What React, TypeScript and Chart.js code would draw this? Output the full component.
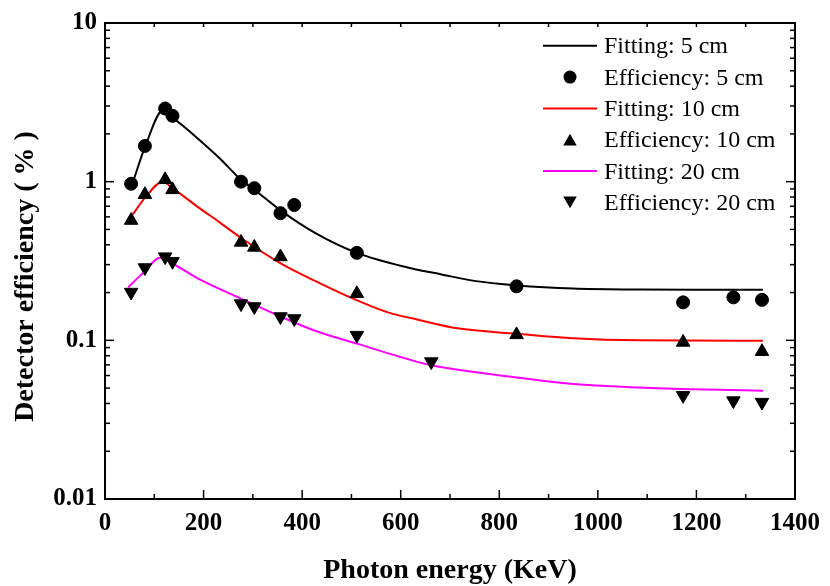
import { useEffect, useRef } from 'react';
import { Chart, registerables } from 'chart.js';
Chart.register(...registerables);

const SERIF = '"Liberation Serif", "Times New Roman", Times, serif';

// Measured efficiency points
const energy5 = [53, 81, 122, 137, 276, 303, 356, 384, 511, 835, 1173, 1275, 1333];
const eff5 = [0.97, 1.68, 2.89, 2.6, 1.0, 0.91, 0.633, 0.713, 0.356, 0.219, 0.1735, 0.1866, 0.18];

const energy10 = [53, 81, 122, 137, 276, 303, 356, 511, 835, 1173, 1333];
const eff10 = [0.57, 0.83, 1.03, 0.89, 0.415, 0.386, 0.336, 0.197, 0.1085, 0.0972, 0.085];

const energy20 = [53, 81, 122, 137, 276, 303, 356, 384, 511, 662, 1173, 1275, 1333];
const eff20 = [0.201, 0.287, 0.336, 0.314, 0.17, 0.163, 0.141, 0.137, 0.1076, 0.0733, 0.0449, 0.0416, 0.0407];

// Fitting curves
const fitX5 = [57, 81, 119, 137, 180, 232, 277, 303, 359, 426, 511, 614, 681, 749, 836, 950, 1084, 1200, 1335];
const fitY5 = [1.0, 1.65, 2.85, 2.55, 1.97, 1.41, 1.02, 0.89, 0.65, 0.476, 0.356, 0.288, 0.261, 0.237, 0.222, 0.212, 0.209, 0.208, 0.208];

const fitX10 = [56, 81, 117, 137, 191, 232, 277, 359, 426, 500, 574, 635, 715, 836, 950, 1084, 1335];
const fitY10 = [0.62, 0.79, 1.0, 0.91, 0.684, 0.556, 0.44, 0.302, 0.237, 0.185, 0.15, 0.135, 0.119, 0.11, 0.103, 0.1, 0.0995];

const fitX20 = [47, 81, 111, 137, 191, 278, 359, 426, 511, 614, 662, 749, 836, 950, 1084, 1219, 1335];
const fitY20 = [0.216, 0.273, 0.332, 0.305, 0.243, 0.182, 0.14, 0.115, 0.0953, 0.0762, 0.0697, 0.0632, 0.0583, 0.053, 0.0505, 0.049, 0.0481];

const xMajorTicks = [0, 200, 400, 600, 800, 1000, 1200, 1400];
const xMinorTicks = [100, 300, 500, 700, 900, 1100, 1300];
const yMajorTicks = [0.01, 0.1, 1, 10];
const yTickLabels = ['0.01', '0.1', '1', '10'];
const yMinorTicks = [2, 3, 4, 5, 6, 7, 8, 9].flatMap((m) => [m * 0.01, m * 0.1, m]);

const legendLabels = [
  'Fitting: 5 cm',
  'Efficiency: 5 cm',
  'Fitting: 10 cm',
  'Efficiency: 10 cm',
  'Fitting: 20 cm',
  'Efficiency: 20 cm',
];

const xTitle = 'Photon energy (KeV)';
const yTitle = 'Detector efficiency ( % )';

const toPts = (xs: number[], ys: number[]) => xs.map((x, i) => ({ x, y: ys[i] }));

const framePlugin = {
  id: 'frameAndExtras',
  afterDraw(chart: any) {
    const { ctx, chartArea: a, scales } = chart;
    const xs = scales.x;
    const ys = scales.y;
    ctx.save();
    ctx.strokeStyle = '#000';
    ctx.lineWidth = 1.5;
    const seg = (x1: number, y1: number, x2: number, y2: number) => {
      ctx.beginPath();
      ctx.moveTo(x1, y1);
      ctx.lineTo(x2, y2);
      ctx.stroke();
    };
    xMajorTicks.forEach((v) => {
      const p = xs.getPixelForValue(v);
      seg(p, a.bottom, p, a.bottom - 9);
      seg(p, a.top, p, a.top + 4);
    });
    xMinorTicks.forEach((v) => {
      const p = xs.getPixelForValue(v);
      seg(p, a.bottom, p, a.bottom - 5);
      seg(p, a.top, p, a.top + 4);
    });
    yMajorTicks.forEach((v) => {
      const p = ys.getPixelForValue(v);
      seg(a.left, p, a.left + 9, p);
      seg(a.right, p, a.right - 9, p);
    });
    yMinorTicks.forEach((v) => {
      const p = ys.getPixelForValue(v);
      seg(a.left, p, a.left + 5, p);
      seg(a.right, p, a.right - 5, p);
    });
    ctx.lineWidth = 2;
    ctx.strokeRect(a.left, a.top, a.right - a.left, a.bottom - a.top);

    // axis titles
    ctx.fillStyle = '#000';
    ctx.font = `bold 28px ${SERIF}`;
    ctx.textAlign = 'center';
    ctx.textBaseline = 'alphabetic';
    ctx.fillText(xTitle, (a.left + a.right) / 2, 577.5);
    ctx.save();
    ctx.translate(33, 276.5);
    ctx.rotate(-Math.PI / 2);
    ctx.fillText(yTitle, 0, 0);
    ctx.restore();

    // legend
    const ds = chart.data.datasets;
    ctx.font = `24px ${SERIF}`;
    ctx.textAlign = 'left';
    legendLabels.forEach((label, i) => {
      const base = 53.3 + 31.3 * i;
      const cy = base - 7.5;
      const d = ds[i];
      if (d.showLine) {
        ctx.strokeStyle = d.borderColor;
        ctx.lineWidth = 2;
        seg(543, cy, 597, cy);
      } else {
        ctx.fillStyle = '#000';
        const style = d.pointStyle;
        const rot = d.rotation || 0;
        const r = style === 'circle' ? 6.5 : 7.8;
        const py = style === 'circle' ? cy : cy + (rot ? -1.8 : 1.8);
        ctx.beginPath();
        if (style === 'circle') {
          ctx.arc(570, py, r, 0, Math.PI * 2);
        } else {
          const s = rot ? -1 : 1;
          ctx.moveTo(570, py - s * r);
          ctx.lineTo(570 + r * 0.866, py + s * r * 0.5);
          ctx.lineTo(570 - r * 0.866, py + s * r * 0.5);
          ctx.closePath();
        }
        ctx.fill();
      }
      ctx.fillStyle = '#000';
      ctx.fillText(label, 604, base);
    });
    ctx.restore();
  },
};

export default function App() {
  const ref = useRef<HTMLCanvasElement>(null);
  useEffect(() => {
    if (!ref.current) return;
    const lineCommon = {
      type: 'line' as const,
      showLine: true,
      borderWidth: 2,
      pointRadius: 0,
      fill: false,
      cubicInterpolationMode: 'monotone' as const,
      order: 2,
    };
    const ptCommon = {
      showLine: false,
      backgroundColor: '#000',
      borderColor: '#000',
      borderWidth: 1,
      order: 1,
    };
    const chart = new Chart(ref.current, {
      type: 'scatter',
      data: {
        datasets: [
          { ...lineCommon, label: legendLabels[0], data: toPts(fitX5, fitY5), borderColor: '#000000' },
          { ...ptCommon, label: legendLabels[1], data: toPts(energy5, eff5), pointStyle: 'circle', pointRadius: 6.5 },
          { ...lineCommon, label: legendLabels[2], data: toPts(fitX10, fitY10), borderColor: '#ff0000' },
          { ...ptCommon, label: legendLabels[3], data: toPts(energy10, eff10), pointStyle: 'triangle', pointRadius: 7.8 },
          { ...lineCommon, label: legendLabels[4], data: toPts(fitX20, fitY20), borderColor: '#ff00ff' },
          { ...ptCommon, label: legendLabels[5], data: toPts(energy20, eff20), pointStyle: 'triangle', rotation: 180, pointRadius: 7.8 },
        ] as any,
      },
      options: {
        responsive: false,
        animation: false,
        layout: { padding: { top: 21, right: 30, left: 0, bottom: 0 } },
        plugins: { legend: { display: false }, tooltip: { enabled: false } },
        scales: {
          x: {
            type: 'linear',
            min: 0,
            max: 1400,
            grid: { display: false, drawTicks: false },
            border: { display: false },
            afterBuildTicks: (s: any) => {
              s.ticks = xMajorTicks.map((v) => ({ value: v }));
            },
            ticks: {
              color: '#000',
              padding: 10,
              font: { family: SERIF, size: 25, weight: 'bold' },
              maxRotation: 0,
              callback: (v: any) => String(v),
            },
            afterFit: (s: any) => {
              s.height = 87;
            },
          },
          y: {
            type: 'logarithmic',
            min: 0.01,
            max: 10,
            grid: { display: false, drawTicks: false },
            border: { display: false },
            afterBuildTicks: (s: any) => {
              s.ticks = yMajorTicks.map((v) => ({ value: v }));
            },
            ticks: {
              color: '#000',
              padding: 8,
              font: { family: SERIF, size: 25, weight: 'bold' },
              callback: (v: any) => {
                const i = yMajorTicks.findIndex((t) => Math.abs(t - Number(v)) < 1e-9);
                return i >= 0 ? yTickLabels[i] : '';
              },
            },
            afterFit: (s: any) => {
              s.width = 105;
            },
          },
        },
      } as any,
      plugins: [framePlugin],
    });
    return () => chart.destroy();
  }, []);
  return (
    <div style={{ position: 'absolute', left: 0, top: 0, width: 830, height: 586, background: '#fff' }}>
      <canvas ref={ref} width={830} height={586} style={{ display: 'block' }} />
    </div>
  );
}
